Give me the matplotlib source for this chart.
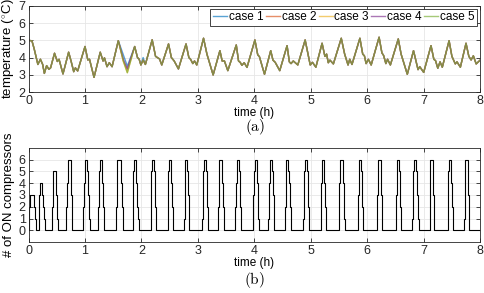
import numpy as np
import matplotlib
matplotlib.use('Agg')
import matplotlib.pyplot as plt
from matplotlib import rcParams
rcParams['font.family'] = ['Liberation Sans', 'DejaVu Sans']
rcParams['mathtext.fontset'] = 'cm'
rcParams['font.size'] = 9

# temperature, shared shape of all cases (h, degC)
t_temp = [0.00, 0.06, 0.10, 0.165, 0.21, 0.25, 0.28, 0.32, 0.36, 0.39, 0.46, 0.51, 0.54, 0.61,
          0.71, 0.755, 0.80, 0.83, 0.87, 1.00, 1.05, 1.08, 1.16, 1.27, 1.32, 1.345, 1.39, 1.43,
          1.48, 1.59, 1.68, 1.75, 1.88, 1.93, 1.96, 1.99, 2.03, 2.07, 2.19, 2.25, 2.32, 2.36,
          2.48, 2.53, 2.58, 2.655, 2.79, 2.84, 2.87, 2.91, 2.94, 2.98, 3.10, 3.16, 3.27, 3.39,
          3.43, 3.47, 3.53, 3.68, 3.72, 3.75, 3.78, 3.82, 3.87, 4.01, 4.06, 4.09, 4.18, 4.29,
          4.33, 4.37, 4.45, 4.58, 4.62, 4.65, 4.69, 4.77, 4.90, 4.95, 4.99, 5.03, 5.09, 5.20,
          5.25, 5.28, 5.31, 5.34, 5.40, 5.54, 5.60, 5.66, 5.69, 5.73, 5.87, 5.92, 5.95, 5.98,
          6.02, 6.07, 6.21, 6.26, 6.29, 6.33, 6.36, 6.41, 6.55, 6.60, 6.71, 6.82, 6.86, 6.90,
          6.93, 7.00, 7.13, 7.18, 7.21, 7.25, 7.29, 7.33, 7.45, 7.50, 7.56, 7.59, 7.65, 7.75,
          7.80, 7.84, 7.88, 7.93, 8.00]
temp = [5.0, 4.97, 4.5, 3.6, 3.9, 3.6, 3.08, 3.53, 3.32, 3.4, 4.25, 3.77, 3.9, 3.05,
        4.31, 3.77, 3.18, 3.4, 3.22, 4.64, 3.86, 3.9, 2.85, 4.31, 3.8, 3.98, 3.47, 3.7,
        3.47, 4.98, 3.8, 3.12, 4.64, 4.0, 3.9, 3.57, 3.85, 3.6, 5.03, 4.07, 3.92, 3.57,
        4.79, 4.0, 3.8, 3.34, 4.79, 4.0, 3.9, 3.65, 3.8, 3.57, 5.12, 4.2, 2.99, 4.4,
        3.8, 3.8, 3.24, 4.73, 3.8, 3.72, 3.55, 3.7, 3.43, 5.02, 4.16, 4.05, 3.03, 4.4,
        3.85, 3.72, 3.24, 4.69, 3.75, 3.65, 3.8, 3.57, 5.02, 4.2, 3.57, 3.72, 3.44, 4.83,
        4.07, 4.2, 3.7, 3.85, 3.63, 5.12, 4.2, 3.57, 3.9, 3.6, 5.12, 4.2, 4.1, 3.65,
        3.9, 3.57, 5.18, 4.27, 4.12, 3.65, 3.9, 3.57, 5.08, 4.2, 3.03, 4.4, 3.85, 3.3,
        3.47, 3.14, 4.69, 3.9, 3.82, 3.38, 3.75, 3.44, 4.98, 4.07, 3.63, 3.75, 3.44, 4.83,
        4.07, 3.86, 4.1, 3.63, 3.85]

# where the cases part ways (h) and their values there
split_t = [1.68, 1.75, 2.03]
split_temp = {
    'case 1': [4.15, 3.50, 4.00],
    'case 2': [3.80, 3.30, 3.85],
    'case 3': [3.75, 3.12, 3.85],
    'case 4': [3.90, 3.35, 3.85],
    'case 5': [3.80, 3.12, 3.85],
}
case_colors = ['#0072BD', '#D95319', '#EDB120', '#7E2F8E', '#77AC30']

# compressor cycles: switch-on, all-on, first drop, all-off (h), peak count
cyc_on = [0.00, 0.18, 0.41, 0.66, 0.965, 1.23, 1.555, 1.85, 2.17, 2.47, 2.76, 3.08, 3.36, 3.66,
          3.97, 4.25, 4.545, 4.87, 5.175, 5.505, 5.84, 6.17, 6.51, 6.80, 7.11, 7.43, 7.72]
cyc_full = [0.03, 0.20, 0.44, 0.70, 1.00, 1.26, 1.57, 1.86, 2.18, 2.48, 2.775, 3.10, 3.38, 3.69,
            4.005, 4.28, 4.565, 4.89, 5.195, 5.51, 5.85, 6.19, 6.525, 6.82, 7.12, 7.44, 7.74]
cyc_drop = [0.10, 0.245, 0.485, 0.745, 1.04, 1.30, 1.63, 1.90, 2.225, 2.52, 2.815, 3.145, 3.42, 3.73,
            4.045, 4.32, 4.605, 4.94, 5.235, 5.57, 5.895, 6.24, 6.565, 6.87, 7.16, 7.48, 7.78]
cyc_off = [0.13, 0.29, 0.52, 0.775, 1.08, 1.345, 1.68, 1.95, 2.26, 2.56, 2.85, 3.185, 3.465, 3.77,
           4.075, 4.355, 4.65, 4.97, 5.27, 5.60, 5.925, 6.27, 6.60, 6.91, 7.19, 7.52, 7.81]
cyc_peak = [3, 4, 5] + [6] * 24

# staircase from the cycle table
st_t, st_n = [0.0], [0]
for on, full, drop, off, pk in zip(cyc_on, cyc_full, cyc_drop, cyc_off, cyc_peak):
    st_t += list(np.linspace(on, full, pk)) + list(np.linspace(drop, off, pk))
    st_n += list(range(1, pk + 1)) + list(range(pk - 1, -1, -1))
st_t.append(8.0)
st_n.append(0)

dark = '#262626'
fig = plt.figure(figsize=(4.84, 2.93), dpi=100)
ax1 = fig.add_axes([0.059, 0.686, 0.933, 0.294])
ax2 = fig.add_axes([0.059, 0.174, 0.933, 0.321])

split_idx = [t_temp.index(t) for t in split_t]
for (name, vals), c in zip(split_temp.items(), case_colors):
    y = list(temp)
    for i, v in zip(split_idx, vals):
        y[i] = v
    ax1.plot(t_temp, y, color=c, lw=1.0, alpha=0.65, label=name)

ax1.set_xlim(0, 8)
ax1.set_ylim(2, 7)
ax1.set_yticks(range(2, 8))
ax1.set_ylabel(r'temperature ($^{\circ}$C)', labelpad=1, fontsize=9.5)
ax1.set_xlabel('time (h)', labelpad=0, fontsize=8.5)
leg = ax1.legend(loc='upper right', ncol=5, fontsize=8.5, handlelength=1.2, handletextpad=0.15,
                 columnspacing=0.2, borderpad=0.2, borderaxespad=0.25, fancybox=False,
                 framealpha=1, edgecolor=dark)
leg.get_frame().set_linewidth(0.6)

ax2.step(st_t, st_n, where='post', color='black', lw=0.8)
ax2.set_xlim(0, 8)
ax2.set_ylim(-1, 7)
ax2.set_yticks(range(0, 7))
ax2.set_ylabel('# of ON compressors', labelpad=3, fontsize=9.5)
ax2.set_xlabel('time (h)', labelpad=0, fontsize=8.5)

for ax in (ax1, ax2):
    ax.set_xticks(range(0, 9))
    ax.grid(True, color='#e6e6e6', lw=0.6)
    ax.set_axisbelow(True)
    ax.tick_params(direction='in', top=True, right=True, length=3, width=0.6,
                   colors=dark, labelcolor=dark, pad=2, labelsize=9)
    for s in ax.spines.values():
        s.set_color(dark)
        s.set_linewidth(0.6)

fig.text(0.526, 1 - 127 / 293, r'$\mathrm{(a)}$', ha='center', va='center', fontsize=11)
fig.text(0.526, 1 - 280 / 293, r'$\mathrm{(b)}$', ha='center', va='center', fontsize=11)

fig.savefig('out.png', dpi=100)
